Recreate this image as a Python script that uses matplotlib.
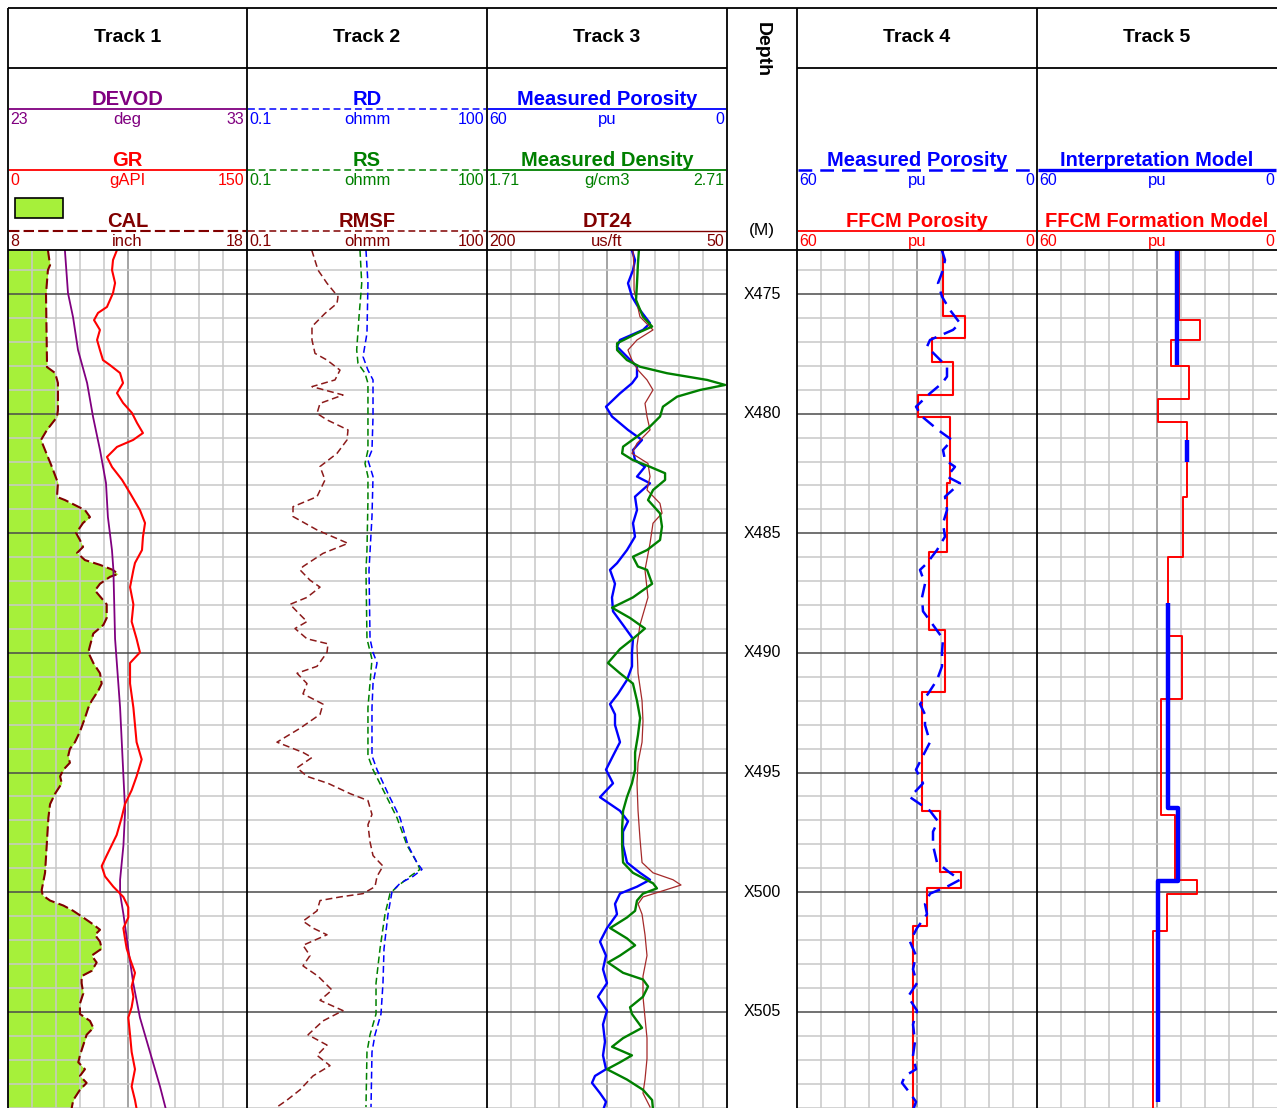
import numpy as np
import matplotlib.pyplot as plt
from matplotlib.ticker import MultipleLocator
from matplotlib.patches import Rectangle

plt.rcParams['font.family'] = ['Liberation Sans', 'DejaVu Sans']

W, H = 1277, 1108
TOP, BASE = 473.16, 509.02
depth_marks = [475, 480, 485, 490, 495, 500, 505]

# ---------------- Track 1 ----------------
cal_depth = [473.16, 473.79, 474.00, 475.00, 477.76, 478.05, 478.30, 478.72, 479.85, 480.14,
             480.68, 481.10, 481.52, 482.23, 482.90, 483.48, 483.61, 484.03, 484.32, 484.57,
             484.99, 485.28, 485.57, 485.82, 486.12, 486.32, 486.53, 486.70, 486.82, 487.11,
             487.39, 487.97, 488.54, 488.83, 489.19, 489.70, 489.98, 490.42, 490.85, 491.28,
             491.57, 492.00, 492.29, 492.72, 493.29, 493.73, 494.01, 494.30, 494.59, 494.88,
             495.16, 495.45, 495.88, 496.32, 496.89, 498.04, 499.19, 499.91, 500.13, 500.35,
             500.56, 500.78, 501.06, 501.35, 501.57, 501.78, 502.07, 502.36, 502.65, 502.94,
             503.29, 503.51, 503.80, 504.23, 504.66, 505.09, 505.38, 505.67, 505.96, 506.39,
             506.82, 507.11, 507.40, 507.68, 507.97, 508.26, 508.69, 509.05]
cal = [9.67, 9.76, 9.67, 9.59, 9.63, 9.63, 9.97, 10.09, 10.09, 10.05,
       9.63, 9.38, 9.55, 9.84, 10.09, 10.05, 10.38, 11.22, 11.43, 11.14,
       10.85, 11.01, 11.14, 10.89, 11.22, 11.85, 12.39, 12.60, 12.27, 11.85,
       11.64, 12.13, 12.13, 11.99, 11.57, 11.43, 11.36, 11.57, 11.85, 11.92,
       11.78, 11.50, 11.36, 11.22, 11.01, 10.80, 10.59, 10.52, 10.59, 10.32,
       10.18, 10.25, 9.97, 9.76, 9.69, 9.62, 9.55, 9.41, 9.45, 9.76,
       10.32, 10.73, 11.15, 11.57, 11.85, 11.64, 11.85, 11.92, 11.50, 11.71,
       11.50, 11.08, 11.08, 11.15, 11.01, 11.01, 11.43, 11.57, 11.29, 11.15,
       11.01, 10.94, 11.22, 11.01, 11.29, 11.01, 10.73, 10.66]

devod_depth = [473.16, 474.96, 475.96, 477.34, 478.72, 480.14, 481.52, 482.90, 484.32, 485.70,
               486.53, 489.41, 492.29, 495.16, 496.60, 498.04, 499.48, 500.06, 500.92, 502.36,
               503.80, 505.24, 506.68, 508.12, 509.05]
devod = [25.38, 25.51, 25.72, 25.93, 26.31, 26.56, 26.85, 27.10, 27.18, 27.35,
         27.41, 27.48, 27.69, 27.83, 27.90, 27.83, 27.69, 27.69, 27.83, 28.03,
         28.24, 28.52, 28.94, 29.36, 29.60]

gr_depth = [473.16, 473.58, 474.00, 474.54, 474.96, 475.54, 475.79, 476.09, 476.50, 476.92,
            477.34, 477.76, 477.97, 478.30, 478.72, 479.14, 479.55, 479.97, 480.39, 480.81,
            481.10, 481.39, 481.81, 482.23, 482.77, 483.32, 484.03, 484.57, 485.15, 485.70,
            486.24, 486.53, 487.25, 487.97, 488.69, 489.41, 489.98, 490.42, 491.28, 492.29,
            493.01, 493.73, 494.45, 495.16, 495.74, 496.32, 496.89, 497.61, 498.47, 498.91,
            499.34, 499.77, 500.20, 500.63, 501.06, 501.50, 501.93, 502.36, 502.79, 503.37,
            503.94, 504.37, 504.81, 505.24, 505.96, 506.68, 507.40, 508.12, 508.69, 509.05]
gr = [68.4, 65.9, 65.3, 67.2, 65.9, 62.1, 56.5, 54.0, 57.7, 55.9,
      57.7, 59.6, 64.0, 70.3, 72.2, 68.4, 72.2, 77.8, 81.0, 84.7,
      78.5, 68.4, 62.1, 65.3, 71.6, 76.6, 82.8, 86.0, 84.7, 84.1,
      79.7, 78.7, 76.6, 78.7, 77.6, 80.7, 82.8, 76.6, 76.6, 78.7,
      79.7, 80.7, 83.9, 80.7, 77.6, 73.4, 71.3, 68.2, 61.9, 58.8,
      60.9, 66.1, 72.4, 75.5, 75.5, 72.4, 73.4, 74.5, 76.6, 79.7,
      77.6, 78.7, 77.6, 75.5, 76.6, 77.6, 79.7, 77.6, 79.7, 80.7]

# ---------------- Track 2 ----------------
rmsf_depth = [473.16, 474.00, 474.55, 475.11, 475.39, 475.81, 476.36, 476.92, 477.48, 477.76,
              478.18, 478.59, 478.87, 479.22, 479.57, 479.99, 480.26, 480.68, 481.10, 481.66,
              482.21, 482.77, 483.47, 483.89, 484.30, 484.86, 485.42, 485.84, 486.39, 486.53,
              486.96, 487.25, 487.68, 487.97, 488.40, 488.69, 488.98, 489.41, 489.62, 489.98,
              490.56, 490.85, 491.28, 491.71, 492.14, 492.57, 493.15, 493.73, 494.16, 494.37,
              494.80, 495.16, 495.45, 495.88, 496.17, 496.75, 497.18, 497.90, 498.47, 498.91,
              499.34, 499.77, 500.06, 500.20, 500.35, 500.78, 501.21, 501.50, 501.78, 502.22,
              502.65, 503.08, 503.51, 504.09, 504.52, 504.95, 505.38, 505.96, 506.39, 506.82,
              507.25, 507.68, 508.26, 508.69, 508.98]
rmsf = [0.644, 0.772, 1.0, 1.372, 1.334, 0.944, 0.649, 0.649, 0.708, 1.0,
        1.454, 1.259, 0.649, 1.585, 0.818, 0.750, 1.0, 1.83, 1.778, 1.334,
        0.818, 0.944, 0.750, 0.376, 0.376, 0.750, 1.83, 0.891, 0.501, 0.460,
        0.613, 0.818, 0.562, 0.345, 0.460, 0.562, 0.398, 0.562, 1.029, 1.0,
        0.750, 0.422, 0.562, 0.501, 0.891, 0.818, 0.460, 0.237, 0.501, 0.649,
        0.422, 0.562, 1.029, 1.94, 3.25, 3.65, 3.25, 3.45, 3.76, 5.01,
        4.22, 3.98, 2.82, 1.454, 0.818, 0.750, 0.501, 0.668, 1.0, 0.501,
        0.613, 0.501, 0.772, 1.155, 0.818, 1.585, 0.891, 0.579, 1.0, 0.750,
        1.09, 0.668, 0.460, 0.316, 0.237]

rs_depth = [473.16, 474.55, 475.95, 477.34, 477.90, 478.31, 478.73, 480.12, 481.52, 482.08,
            482.63, 483.61, 485.70, 486.53, 489.41, 490.27, 492.29, 494.30, 494.88, 495.88,
            496.89, 498.04, 498.76, 499.05, 499.34, 499.77, 500.06, 500.92, 502.36, 503.80,
            505.09, 505.96, 506.68, 508.98]
rs = [2.585, 2.716, 2.512, 2.350, 2.44, 2.985, 3.25, 3.25, 3.25, 2.985,
      3.25, 3.25, 3.16, 3.07, 3.16, 3.65, 3.25, 3.25, 3.76, 5.31,
      7.50, 10.0, 13.3, 14.5, 10.9, 7.50, 6.13, 5.31, 4.60, 4.10,
      4.10, 3.45, 3.16, 3.07]

rd_depth = [473.16, 474.55, 476.64, 477.62, 478.18, 478.59, 480.12, 481.52, 481.94, 482.63,
            484.30, 486.53, 489.41, 489.98, 490.42, 491.28, 492.29, 494.30, 494.88, 495.88,
            496.89, 498.04, 498.76, 499.05, 499.34, 499.63, 499.99, 500.92, 502.36, 503.80,
            505.09, 505.96, 506.68, 508.98]
rd = [3.07, 3.25, 3.16, 2.82, 3.25, 3.76, 3.76, 3.65, 3.25, 3.76,
      3.65, 3.35, 3.45, 3.76, 4.22, 3.76, 3.65, 3.65, 4.22, 5.79,
      8.18, 10.3, 13.3, 15.4, 11.9, 8.18, 6.49, 5.79, 5.16, 5.01,
      4.73, 3.98, 3.65, 3.55]

# ---------------- Track 3 (and measured porosity in Track 4) ----------------
phi_depth = [473.16, 473.58, 474.00, 474.55, 475.11, 475.67, 476.22, 476.50, 476.92, 477.20,
             477.62, 478.04, 478.45, 478.73, 479.15, 479.71, 480.12, 480.68, 481.10, 481.52,
             481.94, 482.22, 482.63, 482.91, 483.47, 484.03, 484.58, 485.14, 485.70, 486.25,
             486.53, 487.11, 487.68, 488.26, 488.83, 489.41, 489.98, 490.56, 491.13, 491.71,
             492.14, 492.57, 493.01, 493.73, 494.30, 494.88, 495.45, 496.03, 496.60, 497.04,
             497.47, 498.04, 498.76, 499.19, 499.48, 499.77, 500.06, 500.49, 500.92, 501.50,
             502.07, 502.65, 503.22, 503.80, 504.37, 504.95, 505.53, 506.25, 506.82, 507.40,
             507.68, 507.97, 508.40, 508.76, 509.12]
phi = [23.8, 23.0, 23.5, 24.75, 23.75, 21.75, 19.25, 21.0, 26.75, 27.5,
       25.0, 22.5, 22.5, 23.75, 26.75, 30.25, 28.75, 24.75, 21.25, 23.5,
       23.0, 20.5, 22.5, 19.25, 23.0, 22.5, 23.5, 23.0, 25.0, 27.5,
       29.25, 28.0, 28.75, 28.5, 26.0, 23.5, 23.75, 23.75, 25.0, 27.25,
       29.25, 28.0, 28.0, 26.75, 28.5, 30.25, 28.5, 31.75, 26.75, 24.75,
       26.0, 26.0, 25.0, 21.75, 19.25, 22.5, 26.75, 28.0, 27.5, 30.0,
       31.75, 30.25, 31.0, 30.0, 32.25, 30.0, 31.0, 30.5, 31.0, 30.25,
       33.0, 33.75, 31.75, 30.25, 31.0]

rho_depth = [473.16, 473.72, 474.55, 475.25, 475.95, 476.36, 476.64, 477.06, 477.34, 477.76,
             478.04, 478.31, 478.59, 478.80, 479.01, 479.29, 479.71, 480.12, 480.54, 480.96,
             481.38, 481.66, 481.94, 482.22, 482.49, 482.77, 483.19, 483.61, 484.17, 484.72,
             485.28, 485.70, 485.98, 486.39, 486.53, 487.11, 487.68, 488.11, 488.54, 488.98,
             489.41, 489.84, 490.42, 490.85, 491.28, 492.00, 492.72, 493.44, 494.16, 494.88,
             495.45, 496.03, 496.60, 497.32, 498.04, 498.76, 499.19, 499.63, 499.84, 500.06,
             500.35, 500.78, 501.06, 501.50, 501.93, 502.22, 502.65, 502.94, 503.37, 503.65,
             503.94, 504.37, 504.81, 505.09, 505.67, 506.10, 506.46, 506.82, 507.11, 507.40,
             507.83, 508.26, 508.69, 509.12]
rho = [2.343, 2.339, 2.335, 2.331, 2.36, 2.398, 2.335, 2.252, 2.252, 2.293,
       2.348, 2.46, 2.627, 2.702, 2.598, 2.502, 2.443, 2.431, 2.389, 2.335,
       2.277, 2.273, 2.318, 2.389, 2.452, 2.452, 2.402, 2.381, 2.431, 2.439,
       2.431, 2.377, 2.318, 2.339, 2.377, 2.398, 2.318, 2.231, 2.306, 2.368,
       2.318, 2.264, 2.214, 2.264, 2.318, 2.335, 2.348, 2.339, 2.327, 2.327,
       2.314, 2.293, 2.277, 2.273, 2.273, 2.277, 2.318, 2.402, 2.418, 2.36,
       2.335, 2.327, 2.293, 2.223, 2.293, 2.327, 2.264, 2.214, 2.277, 2.36,
       2.381, 2.36, 2.306, 2.314, 2.356, 2.277, 2.231, 2.314, 2.264, 2.21,
       2.293, 2.36, 2.398, 2.402]

dt_depth = [473.16, 474.00, 474.83, 475.95, 476.50, 476.92, 477.34, 477.76, 478.18, 478.59,
            479.01, 479.57, 480.12, 480.68, 481.24, 481.66, 482.08, 482.63, 483.19, 483.75,
            484.16, 484.58, 485.42, 486.53, 487.68, 488.83, 489.70, 490.85, 492.00, 492.86,
            493.73, 494.59, 495.45, 496.60, 497.75, 498.76, 499.19, 499.48, 499.70, 499.98,
            500.20, 500.49, 500.92, 501.78, 502.65, 503.51, 504.37, 505.24, 506.10, 506.96,
            507.83, 508.40, 508.98]
dt = [108.75, 108.1, 108.1, 104.4, 96.25, 106.25, 111.9, 109.4, 105.6, 100.0,
      96.25, 101.25, 100.0, 98.1, 106.25, 109.4, 99.4, 98.1, 100.0, 91.9,
      90.6, 96.25, 98.1, 101.25, 99.4, 104.4, 106.25, 105.6, 103.1, 102.5,
      103.1, 105.6, 106.25, 105.6, 104.4, 103.1, 96.25, 83.75, 78.75, 91.9,
      102.5, 105.6, 103.1, 101.25, 100.0, 102.5, 102.5, 101.25, 100.0, 100.0,
      101.25, 102.5, 98.1]

# ---------------- Track 4 / 5 layered models ----------------
ffcm_top = [473.16, 475.90, 476.85, 477.83, 479.22, 480.13, 482.90, 485.77, 489.05, 491.64,
            496.60, 499.17, 499.84, 501.42]
ffcm_phi = [23.4, 18.0, 26.3, 20.9, 29.8, 21.8, 22.6, 27.0, 23.0, 28.8,
            24.25, 19.1, 27.6, 30.9]

form_top = [473.16, 476.09, 476.92, 478.00, 479.40, 480.33, 483.47, 486.00, 489.30, 491.93,
            496.78, 499.48, 500.06, 501.64]
form_phi = [24.5, 19.25, 26.5, 22.0, 29.8, 22.6, 23.4, 27.3, 23.8, 29.0,
            25.5, 20.1, 27.6, 30.9]

interp_top = [473.16, 477.97, 481.10, 482.00, 487.90, 496.50, 499.52, 508.76]
interp_phi = [25.1, np.nan, 22.6, np.nan, 27.3, 24.8, 29.7, np.nan]

PURPLE = '#800080'
RED = '#ff0000'
BROWN = '#800000'
BLUE = '#0000ff'
GREEN = '#008000'
FILL = '#a6f03a'
HEAD = 250


def steps(tops, vals, base=BASE):
    bounds = list(tops) + [base]
    xs, ys = [], []
    for i, v in enumerate(vals):
        xs += [v, v]
        ys += [bounds[i], bounds[i + 1]]
    return xs, ys


fig = plt.figure(figsize=(W / 100, H / 100), dpi=100)


def track_axes(x0, x1, lo, hi, log=False, vgrid=True):
    ax = fig.add_axes([x0 / W, 0, (x1 - x0) / W, (H - HEAD) / H])
    if log:
        ax.set_xscale('log')
    ax.set_xlim(lo, hi)
    ax.set_ylim(BASE, TOP)
    ax.yaxis.set_major_locator(MultipleLocator(5))
    ax.yaxis.set_minor_locator(MultipleLocator(1))
    ax.grid(which='minor', axis='y', color='#c8c8c8', lw=1.1)
    ax.grid(which='major', axis='y', color='#4a4a4a', lw=1.1)
    if vgrid:
        t = np.linspace(lo, hi, 11)
        ax.set_xticks([t[5]])
        ax.set_xticks(t[1:10], minor=True)
        ax.grid(which='minor', axis='x', color='#c8c8c8', lw=1.1)
        ax.grid(which='major', axis='x', color='#8c8c8c', lw=1.1)
    else:
        ax.set_xticks([])
        ax.set_xticks([], minor=True)
    ax.tick_params(which='both', length=0, labelleft=False, labelbottom=False)
    for s in ax.spines.values():
        s.set_visible(False)
    ax.set_axisbelow(True)
    return ax


def curve_axes(ax, lo, hi):
    c = ax.twiny()
    c.set_xlim(lo, hi)
    c.axis('off')
    return c


# Track 1
t1 = track_axes(8, 247, 8, 18)
t1.fill_betweenx(cal_depth, 8, cal, color=FILL, lw=0, zorder=0.2)
t1.plot(cal, cal_depth, color=BROWN, lw=1.5, dashes=(5, 2))
curve_axes(t1, 23, 33).plot(devod, devod_depth, color=PURPLE, lw=1.3)
curve_axes(t1, 0, 150).plot(gr, gr_depth, color=RED, lw=1.5)

# Track 2
t2 = track_axes(247, 487, 0.1, 100, log=True, vgrid=False)
t2.plot(rmsf, rmsf_depth, color='#8b1a1a', lw=1.1, dashes=(4.5, 2.5))
t2.plot(rs, rs_depth, color=GREEN, lw=1.1, dashes=(4.5, 2.5))
t2.plot(rd, rd_depth, color=BLUE, lw=1.1, dashes=(4.5, 2.5))

# Track 3
t3 = track_axes(487, 727, 60, 0)
curve_axes(t3, 200, 50).plot(dt, dt_depth, color='#a52a2a', lw=0.9)
curve_axes(t3, 1.71, 2.71).plot(rho, rho_depth, color=GREEN, lw=1.7)
t3.plot(phi, phi_depth, color=BLUE, lw=1.7)

# Track 4
t4 = track_axes(797, 1037, 60, 0)
fx, fy = steps(ffcm_top, ffcm_phi)
t4.plot(fx, fy, color=RED, lw=1.5)
t4.plot(phi, phi_depth, color=BLUE, lw=1.8, dashes=(5.5, 3.2))

# Track 5
t5 = track_axes(1037, W, 60, 0)
mx, my = steps(form_top, form_phi)
t5.plot(mx, my, color=RED, lw=1.4)
ix, iy = steps(interp_top, interp_phi)
t5.plot(ix, iy, color=BLUE, lw=3.2, solid_capstyle='butt')

# Depth column
td = fig.add_axes([727 / W, 0, 70 / W, (H - HEAD) / H])
td.set_ylim(BASE, TOP)
td.set_xlim(0, 1)
td.axis('off')
for d in depth_marks:
    td.text(0.5, d, f'X{d}', ha='center', va='center', fontsize=11.5)

# Header / frame overlay (pixel coordinates)
ov = fig.add_axes([0, 0, 1, 1], zorder=10)
ov.set_xlim(0, W)
ov.set_ylim(H, 0)
ov.axis('off')

k = dict(color='black', lw=1.3, solid_capstyle='butt')
ov.plot([8, W], [8, 8], **k)
for x in [8, 247, 487, 727, 797, 1037]:
    ov.plot([x, x], [8, H], **k)
ov.plot([8, 727], [68, 68], **k)
ov.plot([797, W], [68, 68], **k)
ov.plot([8, W], [HEAD, HEAD], **k)

for i, (x0, x1) in enumerate([(8, 247), (247, 487), (487, 727), (797, 1037), (1037, W)]):
    ov.text((x0 + x1) / 2, 37, f'Track {i + 1}', ha='center', va='center',
            fontsize=14, fontweight='bold')

ov.text(762, 50, 'Depth', rotation=270, ha='center', va='center', fontsize=14, fontweight='bold')
ov.text(762, 231, '(M)', ha='center', va='center', fontsize=12.5)

ROWS = [109, 170, 231]


def header(x0, x1, row, name, unit, lo, hi, color, **line_kw):
    yl = ROWS[row]
    kw = dict(lw=1.3, solid_capstyle='butt')
    kw.update(line_kw)
    ov.plot([x0 + 1, x1 - 1], [yl, yl], color=color, **kw)
    ov.text((x0 + x1) / 2, yl - 4, name, ha='center', va='baseline', color=color,
            fontsize=14.5, fontweight='bold')
    ov.text(x0 + 2, yl + 3, lo, ha='left', va='top', color=color, fontsize=11.5)
    ov.text((x0 + x1) / 2, yl + 3, unit, ha='center', va='top', color=color, fontsize=12)
    ov.text(x1 - 3, yl + 3, hi, ha='right', va='top', color=color, fontsize=11.5)


header(8, 247, 0, 'DEVOD', 'deg', '23', '33', PURPLE)
header(8, 247, 1, 'GR', 'gAPI', '0', '150', RED)
header(8, 247, 2, 'CAL', 'inch', '8', '18', BROWN, dashes=(5, 2), lw=1.5)
ov.add_patch(Rectangle((15, 198), 48, 20, facecolor=FILL, edgecolor='black', lw=1.2))

header(247, 487, 0, 'RD', 'ohmm', '0.1', '100', BLUE, dashes=(4.5, 2.5), lw=1.1)
header(247, 487, 1, 'RS', 'ohmm', '0.1', '100', GREEN, dashes=(4.5, 2.5), lw=1.1)
header(247, 487, 2, 'RMSF', 'ohmm', '0.1', '100', BROWN, dashes=(4.5, 2.5), lw=1.1)

header(487, 727, 0, 'Measured Porosity', 'pu', '60', '0', BLUE)
header(487, 727, 1, 'Measured Density', 'g/cm3', '1.71', '2.71', GREEN)
header(487, 727, 2, 'DT24', 'us/ft', '200', '50', BROWN, lw=1.0)

header(797, 1037, 1, 'Measured Porosity', 'pu', '60', '0', BLUE, dashes=(5.5, 3.2), lw=1.8)
header(797, 1037, 2, 'FFCM Porosity', 'pu', '60', '0', RED)

header(1037, W, 1, 'Interpretation Model', 'pu', '60', '0', BLUE, lw=2.4)
header(1037, W, 2, 'FFCM Formation Model', 'pu', '60', '0', RED)

fig.savefig('out.png', dpi=100, facecolor='white')
